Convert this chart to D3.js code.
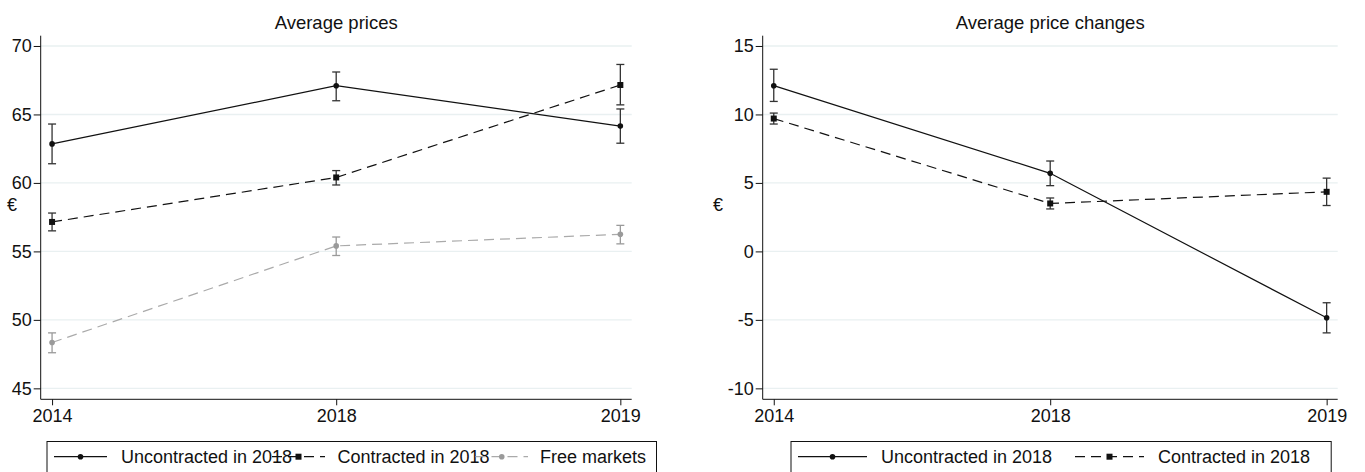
<!DOCTYPE html>
<html>
<head>
<meta charset="utf-8">
<script src="https://cdn.jsdelivr.net/npm/d3@7"></script>
<style>
  html, body { margin: 0; padding: 0; background: #fff; }
  svg { display: block; font-family: "Liberation Sans", Arial, Helvetica, sans-serif; }
</style>
</head>
<body>
<svg id="chart" width="1365" height="472"></svg>
<script>
// Survey years on the horizontal axis
const years = ["2014", "2018", "2019"];

// Average prices (€) with 95% confidence bounds
const priceUncontracted   = [62.85, 67.1, 64.15];
const priceUncontractedLo = [61.4, 66.0, 62.9];
const priceUncontractedHi = [64.3, 68.1, 65.4];

const priceContracted   = [57.15, 60.4, 67.15];
const priceContractedLo = [56.5, 59.85, 65.7];
const priceContractedHi = [57.8, 60.9, 68.65];

const priceFree   = [48.35, 55.4, 56.25];
const priceFreeLo = [47.6, 54.7, 55.55];
const priceFreeHi = [49.05, 56.05, 56.9];

// Average price changes (€) with 95% confidence bounds
const changeUncontracted   = [12.1, 5.7, -4.85];
const changeUncontractedLo = [10.95, 4.8, -5.95];
const changeUncontractedHi = [13.3, 6.6, -3.75];

const changeContracted   = [9.7, 3.5, 4.35];
const changeContractedLo = [9.3, 3.1, 3.35];
const changeContractedHi = [10.1, 3.9, 5.35];

// Axis ticks
const priceTicks  = [45, 50, 55, 60, 65, 70];
const changeTicks = [-10, -5, 0, 5, 10, 15];

// Series labels
const labelUncontracted = "Uncontracted in 2018";
const labelContracted   = "Contracted in 2018";
const labelFree         = "Free markets";

const FONT = 18;
const svg = d3.select("#chart");

function zip(mean, lo, hi) {
  return years.map((y, i) => ({ year: y, v: mean[i], lo: lo[i], hi: hi[i] }));
}

function drawPanel(cfg) {
  const { left, right, top, bottom, domain, ticks, title, series, unitX } = cfg;
  const g = svg.append("g");

  const x = d3.scalePoint().domain(years).range([left, right]).padding(0.04);
  const y = d3.scaleLinear().domain(domain).range([bottom, top]);

  // Gridlines
  g.append("g").selectAll("line").data(ticks).join("line")
    .attr("x1", left).attr("x2", right)
    .attr("y1", d => y(d)).attr("y2", d => y(d))
    .attr("stroke", "#e9f0f1").attr("stroke-width", 1.4);

  // Y axis (plain hyphen for negatives)
  const ya = g.append("g").attr("transform", `translate(${left},0)`)
    .call(d3.axisLeft(y).tickValues(ticks).tickSize(7).tickSizeOuter(0).tickPadding(2).tickFormat(d => String(d)));
  ya.select(".domain").attr("stroke", "#111").attr("d", `M0,${top}V${bottom}`);
  ya.selectAll(".tick line").attr("stroke", "#111");
  ya.selectAll("text").attr("font-size", FONT).attr("fill", "#111").attr("font-family", null);

  // X axis
  const xa = g.append("g").attr("transform", `translate(0,${bottom})`)
    .call(d3.axisBottom(x).tickSize(6).tickSizeOuter(0).tickPadding(4));
  xa.select(".domain").attr("stroke", "#111").attr("d", `M${left},0H${right}`);
  xa.selectAll(".tick line").attr("stroke", "#111");
  xa.selectAll("text").attr("font-size", FONT).attr("fill", "#111").attr("font-family", null);

  // Title
  g.append("text").attr("x", (left + right) / 2).attr("y", 29)
    .attr("text-anchor", "middle").attr("font-size", FONT + 0.5).attr("fill", "#111").text(title);

  // Unit label
  g.append("text").attr("x", unitX).attr("y", 211)
    .attr("text-anchor", "middle").attr("font-size", FONT).attr("fill", "#111").text("€");

  const line = d3.line().x(d => x(d.year)).y(d => y(d.v));

  series.forEach(s => {
    const data = zip(s.mean, s.lo, s.hi);
    // Connecting line
    g.append("path").datum(data)
      .attr("d", line).attr("fill", "none")
      .attr("stroke", s.color).attr("stroke-width", 1.2)
      .attr("stroke-dasharray", s.dash || null);

    // Confidence intervals
    const eb = g.append("g").attr("stroke", s.barColor).attr("stroke-width", 1.3);
    data.forEach(d => {
      const cx = x(d.year);
      eb.append("line").attr("x1", cx).attr("x2", cx).attr("y1", y(d.lo)).attr("y2", y(d.hi));
      eb.append("line").attr("x1", cx - 4).attr("x2", cx + 4).attr("y1", y(d.lo)).attr("y2", y(d.lo));
      eb.append("line").attr("x1", cx - 4).attr("x2", cx + 4).attr("y1", y(d.hi)).attr("y2", y(d.hi));
    });

    // Markers
    data.forEach(d => drawMarker(g, s.shape, x(d.year), y(d.v), s.markColor));
  });
}

function drawMarker(g, shape, cx, cy, color) {
  if (shape === "square") {
    g.append("rect").attr("x", cx - 3).attr("y", cy - 3).attr("width", 6).attr("height", 6).attr("fill", color);
  } else {
    g.append("circle").attr("cx", cx).attr("cy", cy).attr("r", 2.8).attr("fill", color);
  }
}

function drawLegend(cfg) {
  const { boxX0, boxX1, items } = cfg;
  const g = svg.append("g");
  g.append("rect").attr("x", boxX0 + 0.5).attr("y", 441.5)
    .attr("width", boxX1 - boxX0).attr("height", 60)
    .attr("fill", "#fff").attr("stroke", "#111").attr("stroke-width", 1);
  const ly = 456.7;
  items.forEach(it => {
    g.append("line").attr("x1", it.k0).attr("x2", it.k1).attr("y1", ly).attr("y2", ly)
      .attr("stroke", it.color).attr("stroke-width", 1.2).attr("stroke-dasharray", it.dash || null);
    drawMarker(g, it.shape, (it.k0 + it.k1) / 2, ly, it.markColor);
    g.append("text").attr("x", it.tx).attr("y", 462.5)
      .attr("font-size", FONT).attr("fill", "#111").text(it.label);
  });
}

const styleU = { color: "#111", barColor: "#333", markColor: "#111", shape: "circle" };
const styleC = { color: "#111", barColor: "#333", markColor: "#111", shape: "square", dash: "10,6" };
const styleF = { color: "#aaaaaa", barColor: "#9a9a9a", markColor: "#9a9a9a", shape: "circle", dash: "10,6" };

drawPanel({
  left: 40.7, right: 631.7, top: 35.7, bottom: 399.3,
  domain: [44.2, 70.75], ticks: priceTicks, title: "Average prices", unitX: 12,
  series: [
    Object.assign({ mean: priceFree, lo: priceFreeLo, hi: priceFreeHi }, styleF),
    Object.assign({ mean: priceContracted, lo: priceContractedLo, hi: priceContractedHi }, styleC),
    Object.assign({ mean: priceUncontracted, lo: priceUncontractedLo, hi: priceUncontractedHi }, styleU)
  ]
});

drawPanel({
  left: 762.7, right: 1337.7, top: 35.7, bottom: 399.3,
  domain: [-10.8, 15.75], ticks: changeTicks, title: "Average price changes", unitX: 718,
  series: [
    Object.assign({ mean: changeContracted, lo: changeContractedLo, hi: changeContractedHi }, styleC),
    Object.assign({ mean: changeUncontracted, lo: changeUncontractedLo, hi: changeUncontractedHi }, styleU)
  ]
});

drawLegend({
  boxX0: 46.5, boxX1: 656,
  items: [
    Object.assign({ k0: 54, k1: 107, tx: 121, label: labelUncontracted }, styleU),
    Object.assign({ k0: 272, k1: 325, tx: 337.5, label: labelContracted }, styleC),
    Object.assign({ k0: 475.5, k1: 528, tx: 540, label: labelFree }, styleF)
  ]
});

drawLegend({
  boxX0: 790.5, boxX1: 1330.7,
  items: [
    Object.assign({ k0: 798, k1: 867, tx: 881, label: labelUncontracted }, styleU),
    Object.assign({ k0: 1075, k1: 1144, tx: 1158, label: labelContracted }, styleC)
  ]
});
</script>
</body>
</html>
